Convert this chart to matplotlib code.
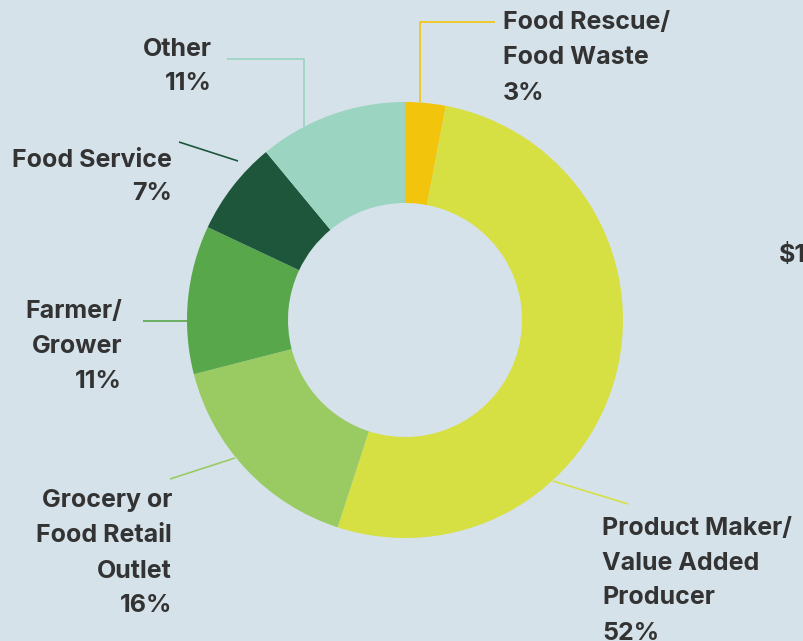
import matplotlib
matplotlib.use("Agg")
import matplotlib.pyplot as plt

# data
labels = ["Food Rescue/\nFood Waste", "Product Maker/\nValue Added\nProducer",
          "Grocery or\nFood Retail\nOutlet", "Farmer/\nGrower", "Food Service", "Other"]
shares = [3, 52, 16, 11, 7, 11]
colors = ["#f2c40c", "#d7e042", "#9acb63", "#58a74a", "#1e563b", "#9bd4c0"]

BG = "#d5e2ea"
TXT = "#333333"
W, H = 804, 641

plt.rcParams["font.family"] = ["Inter", "DejaVu Sans"]

fig = plt.figure(figsize=(W / 100, H / 100), dpi=100, facecolor=BG)
ax = fig.add_axes([0, 0, 1, 1])

cx, cy = 405, H - 320
ax.pie(shares, colors=colors, startangle=90, counterclock=False,
       center=(cx, cy), radius=218, wedgeprops=dict(width=101, linewidth=0),
       frame=True)
ax.set_xlim(0, W)
ax.set_ylim(0, H)
ax.set_aspect("equal")
ax.axis("off")

# leader lines (pixel coords, y from top)
leaders = [
    ([420, 420, 495], [102, 22, 22]),
    ([553, 628], [481, 504]),
    ([235, 170], [458, 479]),
    ([187, 143], [321, 321]),
    ([238, 179], [161, 142]),
    ([304, 304, 227], [127, 59, 59]),
]
for (xs, ys), c in zip(leaders, colors):
    ax.plot(xs, [H - y for y in ys], color=c, lw=1.2, solid_capstyle="butt")

# label anchors: (x, y of first line center, alignment, line step)
anchors = [
    (503, 23, "left", 35),
    (602, 528, "left", 35),
    (172, 501, "right", 35),
    (122, 312, "right", 35),
    (172, 161, "right", 33),
    (212, 49, "right", 35),
]
for lab, v, (x, y, ha, step) in zip(labels, shares, anchors):
    lines = lab.split("\n") + [f"{v}%"]
    for i, ln in enumerate(lines):
        ax.text(x, H - (y + i * step), ln, ha=ha, va="center",
                fontsize=18, fontweight="bold", color=TXT)

ax.text(779, H - 256, "$1", ha="left", va="center",
        fontsize=18, fontweight="bold", color=TXT)

fig.savefig("out.png", dpi=100, facecolor=BG)
